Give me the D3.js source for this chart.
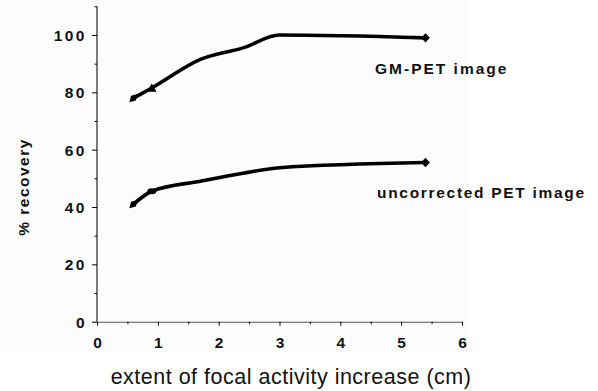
<!DOCTYPE html>
<html><head><meta charset="utf-8">
<script src="https://cdn.jsdelivr.net/npm/d3@7/dist/d3.min.js"></script>
<style>body{margin:0;background:#fff}svg{display:block}</style>
</head><body>
<svg id="chart" width="598" height="391"></svg>
<script>
const xValues = [0.6, 0.9, 1.7, 2.4, 3.0, 5.4];
const gmPet = [78, 81.5, 91.5, 95.5, 100, 99];
const uncorrected = [41, 45.5, 49, 51.8, 53.7, 55.5];
const xTicks = [0, 1, 2, 3, 4, 5, 6];
const yTicks = [0, 20, 40, 60, 80, 100];
const seriesLabels = ["GM-PET image", "uncorrected PET image"];

const svg = d3.select("#chart");
const x = d3.scaleLinear().domain([0, 6]).range([97, 462]);
const y = d3.scaleLinear().domain([0, 110]).range([321.7, 6.3]);

svg.append("rect").attr("x", 0).attr("y", 0).attr("width", 466).attr("height", 352).attr("fill", "#fcfcfc");

const bold = "'Liberation Sans', Arial, sans-serif";

// y axis
const yAxis = svg.append("g").attr("transform", `translate(${x(0)},0)`)
  .call(d3.axisLeft(y).tickValues(yTicks).tickSize(5).tickPadding(5).tickSizeOuter(0));
yAxis.select(".domain").attr("stroke", "#222").attr("stroke-width", 1.2).attr("d", `M0,${y(110)}V${y(0)}`);
yAxis.selectAll("text").attr("font-family", bold).attr("font-weight", "bold").attr("font-size", 15.5)
  .attr("letter-spacing", 2.5).attr("fill", "#111").attr("dy", "0.36em");
svg.append("g").attr("transform", `translate(${x(0)},0)`)
  .call(d3.axisLeft(y).tickValues([10, 30, 50, 70, 90, 110]).tickSize(2.5).tickFormat(""))
  .select(".domain").remove();

// x axis
const xAxis = svg.append("g").attr("transform", `translate(0,${y(0)})`)
  .call(d3.axisBottom(x).tickValues(xTicks).tickFormat(d3.format("d")).tickSize(4).tickPadding(11).tickSizeOuter(0));
xAxis.select(".domain").attr("stroke", "#555").attr("stroke-width", 1.1);
xAxis.selectAll("text").attr("font-family", bold).attr("font-weight", "bold").attr("font-size", 15.5).attr("fill", "#111");
svg.append("g").attr("transform", `translate(0,${y(0)})`)
  .call(d3.axisBottom(x).tickValues([0.5, 1.5, 2.5, 3.5, 4.5, 5.5]).tickSize(2.5).tickFormat(""))
  .select(".domain").remove();

// lines
const line = d3.line().x(d => x(d[0])).y(d => y(d[1])).curve(d3.curveMonotoneX);
[gmPet, uncorrected].forEach(vals => {
  const pts = xValues.map((v, i) => [v, vals[i]]);
  svg.append("path").attr("d", line(pts)).attr("fill", "none").attr("stroke", "#000")
    .attr("stroke-width", 3.6).attr("stroke-linecap", "round");
  const last = pts[pts.length - 1];
  svg.append("path").attr("d", d3.symbol(d3.symbolDiamond, 40)())
    .attr("transform", `translate(${x(last[0])},${y(last[1])}) scale(1.3,0.8)`).attr("fill", "#000");
  const first = pts[0];
  svg.append("path").attr("d", d3.symbol(d3.symbolDiamond, 40)())
    .attr("transform", `translate(${x(first[0])},${y(first[1])}) rotate(45)`).attr("fill", "#000");
});
svg.append("path").attr("d", d3.symbol(d3.symbolTriangle, 40)())
  .attr("transform", `translate(${x(xValues[1])},${y(gmPet[1]) + 1})`).attr("fill", "#000");
svg.append("ellipse").attr("cx", x(xValues[1])).attr("cy", y(uncorrected[1]))
  .attr("rx", 4.5).attr("ry", 3).attr("fill", "#000");

// labels
svg.append("text").attr("x", 375).attr("y", 74).text(seriesLabels[0])
  .attr("font-family", bold).attr("font-weight", "bold").attr("font-size", 15.5).attr("letter-spacing", 2).attr("fill", "#111");
svg.append("text").attr("x", 377).attr("y", 198).text(seriesLabels[1])
  .attr("font-family", bold).attr("font-weight", "bold").attr("font-size", 15.5).attr("letter-spacing", 1.7).attr("fill", "#111");

svg.append("text").attr("x", 291).attr("y", 384).attr("text-anchor", "middle")
  .text("extent of focal activity increase (cm)")
  .attr("font-family", "'Liberation Sans', Arial, sans-serif").attr("font-size", 21.5).attr("letter-spacing", 0.5).attr("fill", "#111");

svg.append("text").attr("transform", "translate(29,187) rotate(-90)").attr("text-anchor", "middle")
  .text("% recovery")
  .attr("font-family", bold).attr("font-weight", "bold").attr("font-size", 15.5).attr("letter-spacing", 1.5).attr("fill", "#111");
</script>
</body></html>
